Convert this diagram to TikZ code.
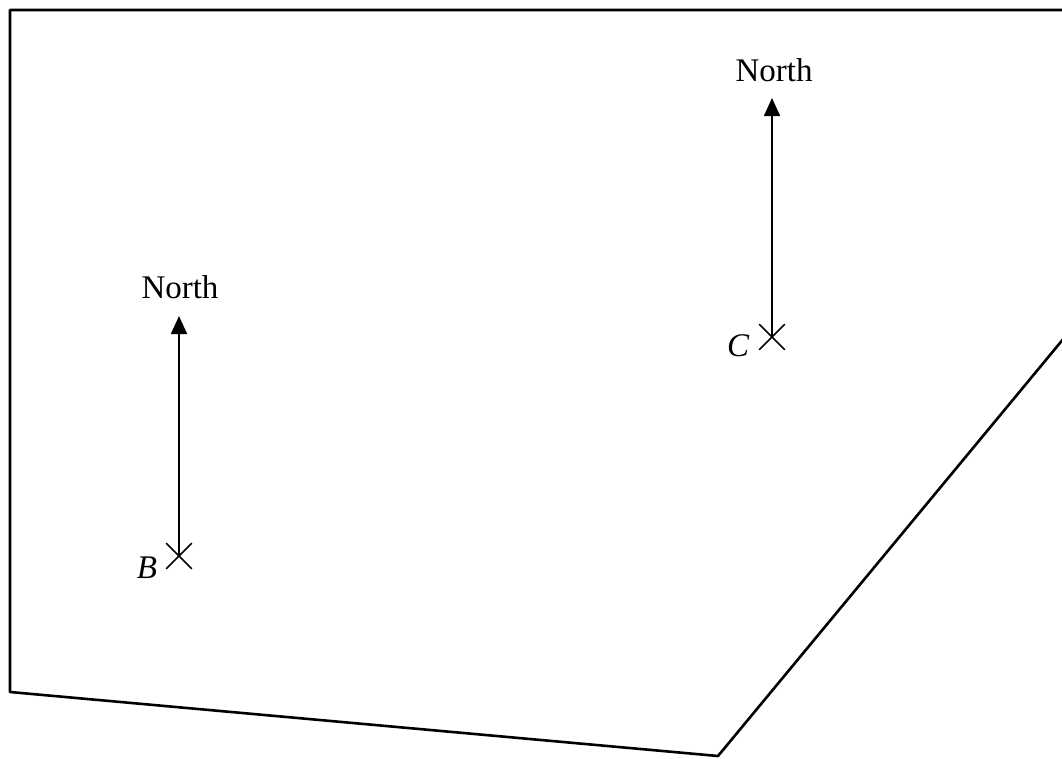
\documentclass[tikz,border=0pt]{standalone}
\usepackage{fontspec}
\setmainfont{Liberation Serif}
\usetikzlibrary{arrows.meta,shapes.misc}
\tikzset{
  frame/.style={line width=2.6pt, line join=round},
  northarrow/.style={line width=1.6pt, -{Triangle[length=18pt,width=16pt]}},
  crossmark/.style={cross out, draw, line width=1.6pt, minimum size=24pt, inner sep=0pt},
  lbl/.style={font=\fontsize{33}{38}\selectfont, inner sep=0pt, anchor=base},
}
\begin{document}
\begin{tikzpicture}[x=1pt,y=-1pt]
\useasboundingbox (0,0) rectangle (1062,758);
\clip (0,0) rectangle (1062,758);
\draw[frame] (1080,10) -- (10,10) -- (10,692) -- (718,756) -- (1074,326);
% B
\node[crossmark] (B) at (179,556) {};
\coordinate (Btip) at (179,316);
\draw[northarrow] (B.center) -- (Btip);
\node[lbl] (NB) at (180,298) {North};
\node[lbl] (LB) at (147,578) {\itshape B};
% C
\node[crossmark] (C) at (772,337) {};
\coordinate (Ctip) at (772,98);
\draw[northarrow] (C.center) -- (Ctip);
\node[lbl] (NC) at (774,81) {North};
\node[lbl] (LC) at (738,356) {\itshape C};
\end{tikzpicture}
\end{document}
